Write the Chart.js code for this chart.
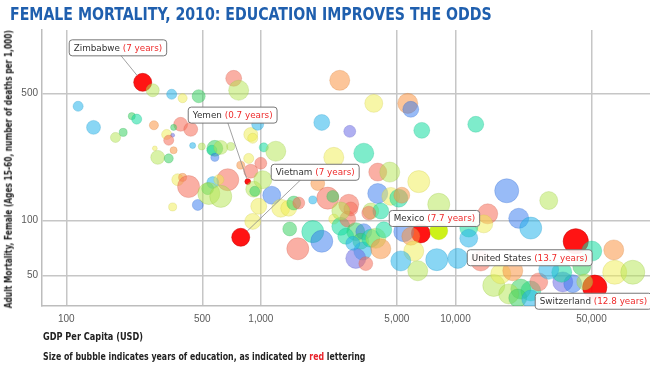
<!DOCTYPE html>
<html>
<head>
<meta charset="utf-8">
<script src="https://cdn.jsdelivr.net/npm/chart.js@4.4.1/dist/chart.umd.min.js"></script>
<style>
  html, body { margin: 0; padding: 0; background: #fff; }
  #wrap { position: relative; width: 650px; height: 367px; overflow: hidden; }
  #chart { position: absolute; left: 0; top: 0; }
  .txt {
    position: absolute; white-space: nowrap; line-height: 1;
    font-family: "Liberation Sans Narrow", "DejaVu Sans Condensed", "Arial Narrow", "Liberation Sans", sans-serif;
    font-weight: bold; transform-origin: 0 50%;
  }
  #title { left: 10px; top: 5px; font-size: 18px; color: #1f5fae; }
  #xtitle { left: 43px; top: 331px; font-size: 11px; color: #222; }
  #note { left: 43px; top: 351px; font-size: 11px; color: #222; }
  #ytitle { font-size: 10.5px; color: #222; transform-origin: 50% 50%; }
</style>
</head>
<body>
<div id="wrap">
  <canvas id="chart" width="650" height="367"></canvas>
  <div class="txt" id="title">FEMALE MORTALITY, 2010: EDUCATION IMPROVES THE ODDS</div>
  <div class="txt" id="ytitle">Adult Mortality, Female (Ages 15-60, number of deaths per 1,000)</div>
  <div class="txt" id="xtitle">GDP Per Capita (USD)</div>
  <div class="txt" id="note">Size of bubble indicates years of education, as indicated by <span style="color:#e8222a">red</span> lettering</div>
</div>
<script>
// countries called out in the chart
const countries = ['Zimbabwe', 'Yemen', 'Vietnam', 'Mexico', 'United States', 'Switzerland'];
const countryGdp = [247, 856, 788, 6635, 41538, 51985];
const countryMortality = [577, 164, 81, 85, 77, 43];
const countryEducation = [7, 0.7, 7, 7.7, 13.7, 12.8];

// all the other countries (GDP per capita, deaths per 1,000, years of education)
const otherGdp = [
  115, 138, 217, 230, 196, 179, 278, 348, 396, 479,
  282, 387, 436, 356, 328, 352, 336, 356, 446, 285,
  295, 336, 374, 396, 425, 352, 474, 725, 769, 887,
  908, 497, 580, 560, 580, 622, 700, 963, 866, 788,
  887, 676, 566, 608, 533, 540, 622, 919, 930, 975,
  1137, 908, 1035, 1193, 999, 1023, 1265, 1390, 1476, 1566,
  1407, 1548, 1848, 2056, 2543, 3804, 5688, 5895, 6714, 2056,
  2863, 3380, 2370, 3988, 4596, 6478, 1960, 2207, 3988, 1848,
  2342, 2830, 4652, 5112, 5300, 12721, 18348, 30169, 8208, 21153,
  24387, 14657, 13982, 11707, 11707, 8208, 5426, 5895, 6107, 5237,
  6402, 8014, 10277, 13496, 50200, 65113, 65866, 81541, 35616, 40090,
  35198, 24387, 21666, 15738, 17100, 19710, 26801, 18793, 20903, 24387,
  30169, 44597, 46183, 2370, 2575, 2796, 3075, 3380, 3262, 3340,
  3075, 3461, 3672, 3896, 4133, 4282, 3672, 4133, 2898, 3585,
  2732, 2968, 2575
];
const otherMortality = [
  426, 326, 376, 362, 306, 287, 522, 496, 472, 484,
  335, 339, 318, 326, 298, 295, 277, 244, 259, 250,
  223, 220, 168, 173, 154, 119, 122, 607, 522, 298,
  284, 256, 250, 244, 223, 253, 256, 339, 220, 202,
  187, 168, 162, 168, 150, 141, 136, 149, 145, 120,
  138, 99, 253, 241, 207, 168, 117, 117, 125, 125,
  90, 70, 87, 77, 592, 442, 442, 410, 314, 347,
  310, 235, 223, 185, 185, 164, 160, 133, 141, 130,
  136, 123, 136, 133, 138, 339, 146, 129, 123, 103,
  91, 109, 96, 91, 80, 88, 87, 82, 68, 60,
  53, 61, 62, 60, 68, 69, 52, 52, 46, 45,
  52, 41, 42, 44, 51, 53, 46, 39.5, 37.5, 37,
  54, 56, 46, 102, 93, 102, 87, 87, 77, 68,
  62, 58, 80, 80, 70, 89, 113, 113, 116, 110,
  82, 75, 113
];
const otherEducation = [
  2.2, 4.2, 1.1, 2.2, 1.4, 2.2, 3.7, 2.2, 1.8, 3.7,
  1.8, 4.2, 4.2, 0.8, 2.2, 0.35, 2.2, 1.1, 0.8, 0.5,
  4.2, 1.8, 3.1, 1.4, 10.5, 1.4, 2.6, 5.5, 8.7, 4.2,
  2.2, 1.1, 5.5, 2.2, 1.4, 4.2, 1.4, 3.1, 2.2, 1.4,
  4.2, 10.5, 3.1, 2.2, 3.1, 10.5, 10.5, 5.5, 2.2, 5.5,
  7, 5.5, 1.8, 8.7, 3.1, 7, 7, 5.5, 4.2, 3.1,
  4.2, 10.5, 10.5, 10.5, 8.7, 7, 8.7, 5.5, 5.5, 5.5,
  3.1, 8.7, 8.7, 7, 8.7, 10.5, 4.2, 10.5, 8.7, 1.4,
  3.1, 8.7, 7, 7, 5.5, 5.5, 12.5, 7, 10.5, 8.7,
  10.5, 8.7, 7, 7, 7, 7, 8.7, 7, 8.7, 8.7,
  8.7, 10.5, 8.7, 8.7, 8.7, 8.7, 12.5, 12.5, 8.7, 7,
  8.7, 8.7, 8.7, 10.5, 8.7, 8.7, 7, 8.7, 7, 7,
  8.7, 7, 5.5, 2.2, 7, 5.5, 7, 5.5, 5.5, 7,
  8.7, 4.2, 7, 8.7, 8.7, 5.5, 5.5, 5.5, 4.2, 4.2,
  5.5, 4.2, 7
];

const xTicks = [100, 500, 1000, 5000, 10000, 50000];
const yTicks = [50, 100, 500];

// bubble colours, one letter per country in otherGdp order
const hueKeys = (
  'CCGTGLLCYG' + 'OSSGYPSOCY' + 'LGYOSYBSLY' + 'YLGTBLLCYO' + 'SSCYGLLLGY' +
  'BYTLSLYYGS' + 'GSTBOYOBTC' + 'PTYSLYOSBC' + 'GSYTOTBLLB' + 'CSYTCKBOYC' +
  'LCCSTOYLPB' + 'TTGLYOSLGC' + 'CGLYTSGBGC' + 'PSTLOTLTSS' + 'TCL').split('');
const palette = {
  S: [245, 110, 90, 0.55], O: [250, 150, 70, 0.55], Y: [240, 238, 80, 0.5],
  L: [180, 230, 80, 0.5], G: [60, 210, 100, 0.55], T: [20, 220, 160, 0.55],
  C: [40, 180, 235, 0.55], B: [50, 120, 240, 0.5], P: [110, 110, 230, 0.55],
  K: [200, 240, 0, 0.9]
};
function rgba(c, a) { return 'rgba(' + c[0] + ',' + c[1] + ',' + c[2] + ',' + a + ')'; }

// callout boxes: top-left offset from the bubble centre, and where the leader leaves the box
const callouts = [
  { dx: -74, dy: -43, lead: 52 },
  { dx: -60, dy: -75, lead: 40 },
  { dx: 30, dy: -73.5, lead: 30 },
  { dx: -32, dy: -23.5 },
  { dx: -109, dy: 8 },
  { dx: -60, dy: 5.5 }
];

function radius(years) { return 3.4 * Math.sqrt(years); }

const calloutPlugin = {
  id: 'callouts',
  afterDatasetsDraw(chart) {
    const ctx = chart.ctx;
    const meta = chart.getDatasetMeta(1);
    ctx.save();
    ctx.font = '8.8px "DejaVu Sans", sans-serif';
    ctx.textBaseline = 'middle';
    countries.forEach((name, i) => {
      const pt = meta.data[i];
      const c = callouts[i];
      const years = ' (' + countryEducation[i] + ' years)';
      const w1 = ctx.measureText(name).width;
      const w2 = ctx.measureText(years).width;
      const bx = pt.x + c.dx, by = pt.y + c.dy, bw = w1 + w2 + 9, bh = 16;
      if (c.lead != null) {
        const lx = bx + c.lead, ly = by + bh;
        const ddx = pt.x - lx, ddy = pt.y - ly;
        const len = Math.sqrt(ddx * ddx + ddy * ddy);
        const r = pt.options.radius;
        ctx.beginPath();
        ctx.moveTo(lx, ly);
        ctx.lineTo(pt.x - ddx / len * r, pt.y - ddy / len * r);
        ctx.strokeStyle = '#8a8a8a';
        ctx.lineWidth = 0.8;
        ctx.stroke();
      }
      ctx.beginPath();
      ctx.roundRect(bx + 0.5, by + 0.5, bw, bh, 3);
      ctx.fillStyle = 'rgba(255,255,255,0.93)';
      ctx.fill();
      ctx.strokeStyle = '#777';
      ctx.lineWidth = 1;
      ctx.stroke();
      ctx.fillStyle = '#333';
      ctx.fillText(name, bx + 5, by + bh / 2 + 1);
      ctx.fillStyle = '#ee2b2b';
      ctx.fillText(years, bx + 5 + w1, by + bh / 2 + 1);
    });
    ctx.restore();
  }
};

const tickFont = { family: '"Liberation Sans", Arial, sans-serif', size: 10 };

new Chart(document.getElementById('chart'), {
  type: 'bubble',
  data: {
    datasets: [{
      data: otherGdp.map((g, i) => ({ x: g, y: otherMortality[i], r: radius(otherEducation[i]) })),
      backgroundColor: hueKeys.map(k => rgba(palette[k], palette[k][3])),
      borderColor: hueKeys.map(k => rgba(palette[k].map(v => v * 0.85), 0.35)),
      borderWidth: 0.8
    }, {
      data: countryGdp.map((g, i) => ({ x: g, y: countryMortality[i], r: radius(countryEducation[i]) })),
      backgroundColor: 'rgba(255,0,0,0.92)',
      borderColor: 'rgba(205,0,0,0.7)',
      borderWidth: 0.8
    }]
  },
  options: {
    responsive: false,
    animation: false,
    layout: { autoPadding: false, padding: { top: 30, left: 0, right: 0, bottom: 39 } },
    plugins: { legend: { display: false }, tooltip: { enabled: false } },
    scales: {
      x: {
        type: 'logarithmic', min: 75, max: 100000,
        afterBuildTicks: s => { s.ticks = xTicks.map(v => ({ value: v })); },
        afterFit: s => { s.height = 22; s.paddingLeft = 0; s.paddingRight = 0; },
        grid: { color: '#c6c6c6', lineWidth: 1.5, drawTicks: false },
        border: { color: '#bdbdbd', width: 1.5 },
        ticks: {
          padding: 7, color: '#5a5a5a', font: tickFont, autoSkip: false, maxRotation: 0,
          callback: v => Number(v).toLocaleString('en-US')
        }
      },
      y: {
        type: 'logarithmic', min: 33.9, max: 1120,
        afterBuildTicks: s => { s.ticks = yTicks.map(v => ({ value: v })); },
        afterFit: s => { s.width = 42; s.paddingTop = 0; s.paddingBottom = 0; },
        grid: { color: '#c6c6c6', lineWidth: 1.5, drawTicks: false },
        border: { color: '#bdbdbd', width: 1.5 },
        ticks: {
          padding: 4, color: '#5a5a5a', font: tickFont,
          callback: v => Number(v).toLocaleString('en-US')
        }
      }
    }
  },
  plugins: [calloutPlugin]
});

// squeeze the html texts to the widths they have in the original
function fit(id, width) {
  const el = document.getElementById(id);
  el.style.transform = 'scaleX(' + (width / el.offsetWidth) + ')';
}
function fitAll() {
  fit('title', 482);
  fit('xtitle', 100);
  fit('note', 322);
  const yt = document.getElementById('ytitle');
  const w = yt.offsetWidth, h = yt.offsetHeight;
  yt.style.left = (8 - w / 2) + 'px';
  yt.style.top = (169 - h / 2) + 'px';
  yt.style.transform = 'rotate(-90deg) scaleX(' + (278 / w) + ')';
}
fitAll();
</script>
</body>
</html>
